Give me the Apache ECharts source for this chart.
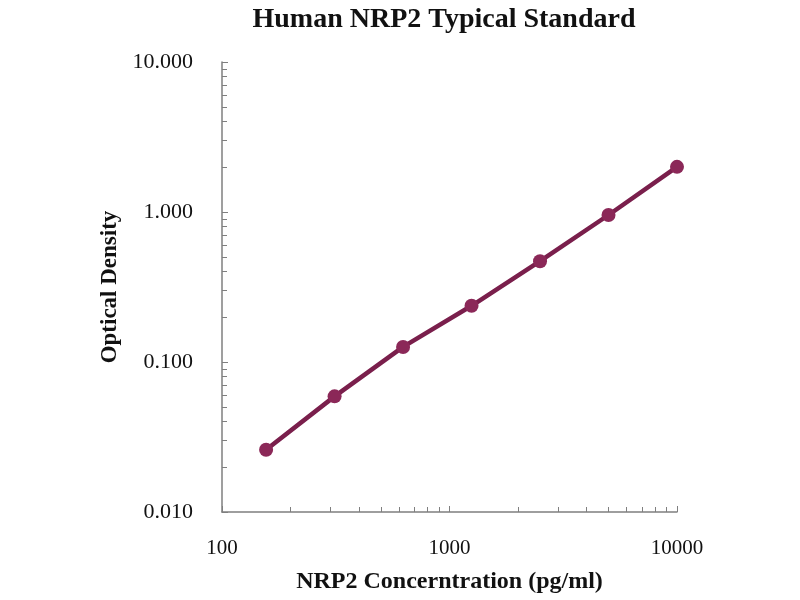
<!DOCTYPE html>
<html>
<head>
<meta charset="utf-8">
<script src="https://cdn.jsdelivr.net/npm/echarts@6/dist/echarts.min.js"></script>
<style>
  html, body { margin: 0; padding: 0; background: #fff; }
  #main { width: 800px; height: 600px; }
</style>
</head>
<body>
<div id="main"></div>
<script>
// standard curve points
var concentrations = [156.25, 312.5, 625, 1250, 2500, 5000, 10000];
var odValues = [0.026, 0.059, 0.126, 0.237, 0.470, 0.955, 2.0];

var points = concentrations.map(function(c, i) { return [c, odValues[i]]; });

var chart = echarts.init(document.getElementById("main"));
var serif = "Liberation Serif";
var axisGrey = "#7f7f7f";

var option = {
    animation: false,
    backgroundColor: "#fff",
    title: {
        text: "Human NRP2 Typical Standard",
        left: 439,
        top: 1,
        textAlign: "center",
        textStyle: { fontFamily: serif, fontWeight: "bold", fontSize: 28, color: "#111" }
    },
    grid: { left: 222, right: 123, top: 62, bottom: 88 },
    xAxis: {
        type: "log",
        min: 100,
        max: 10000,
        logBase: 10,
        name: "NRP2 Concerntration (pg/ml)",
        nameLocation: "middle",
        nameGap: 58,
        nameTextStyle: { fontFamily: serif, fontWeight: "bold", fontSize: 24, color: "#111" },
        axisLine: { lineStyle: { color: axisGrey, width: 1.5 } },
        axisTick: { inside: true, length: 6, lineStyle: { color: axisGrey } },
        minorTick: { show: true, splitNumber: 9, length: 5, lineStyle: { color: axisGrey } },
        splitLine: { show: false },
        axisLabel: {
            fontFamily: serif, fontSize: 21, color: "#111", margin: 26,
            formatter: function(v) { return String(Math.round(v)); }
        }
    },
    yAxis: {
        type: "log",
        min: 0.01,
        max: 10,
        logBase: 10,
        name: "Optical Density",
        nameLocation: "middle",
        nameGap: 97,
        nameRotate: 90,
        nameTextStyle: { fontFamily: serif, fontWeight: "bold", fontSize: 23, color: "#111" },
        axisLine: { lineStyle: { color: axisGrey, width: 1.5 } },
        axisTick: { inside: true, length: 6, lineStyle: { color: axisGrey } },
        minorTick: { show: true, splitNumber: 9, length: 5, lineStyle: { color: axisGrey } },
        splitLine: { show: false },
        axisLabel: {
            fontFamily: serif, fontSize: 22, color: "#111", margin: 29,
            formatter: function(v) { return v.toFixed(3); }
        }
    },
    series: [{
        type: "line",
        data: points,
        symbol: "circle",
        symbolSize: 14,
        lineStyle: { color: "#7a1f4c", width: 4.5 },
        itemStyle: { color: "#8b2858" }
    }]
};

chart.setOption(option);
</script>
</body>
</html>
